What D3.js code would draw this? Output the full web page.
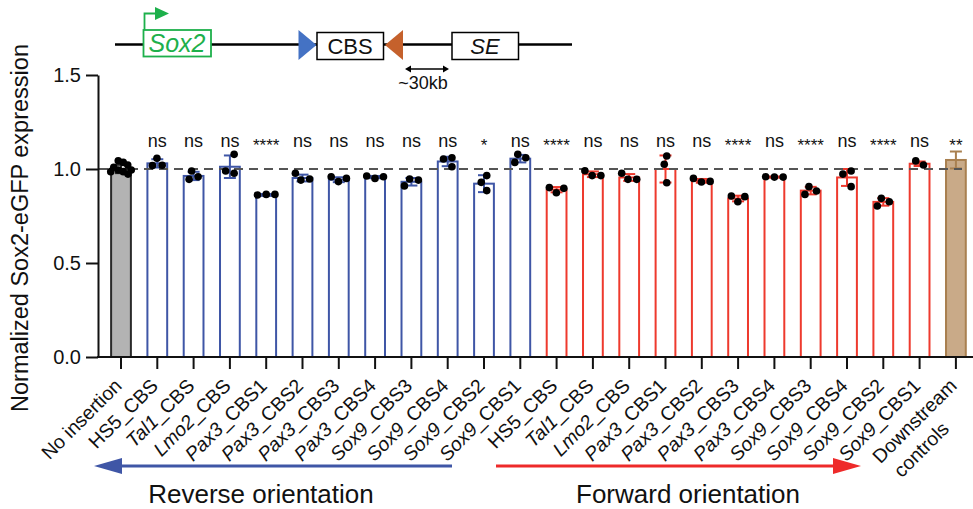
<!DOCTYPE html>
<html><head><meta charset="utf-8">
<script src="https://cdn.jsdelivr.net/npm/d3@7"></script>
<style>
body{margin:0;background:#fff}
svg{display:block}
text{font-family:"Liberation Sans",Arial,Helvetica,sans-serif;fill:#111}
</style>
</head><body>
<svg id="c" width="973" height="509"></svg>
<script>
// ---------- data ----------
const categories = ["No insertion",
  "HS5_CBS","Tal1_CBS","Lmo2_CBS","Pax3_CBS1","Pax3_CBS2","Pax3_CBS3","Pax3_CBS4","Sox9_CBS3","Sox9_CBS4","Sox9_CBS2","Sox9_CBS1",
  "HS5_CBS","Tal1_CBS","Lmo2_CBS","Pax3_CBS1","Pax3_CBS2","Pax3_CBS3","Pax3_CBS4","Sox9_CBS3","Sox9_CBS4","Sox9_CBS2","Sox9_CBS1",
  "Downstream controls"];
const groups = ["control",
  "reverse","reverse","reverse","reverse","reverse","reverse","reverse","reverse","reverse","reverse","reverse",
  "forward","forward","forward","forward","forward","forward","forward","forward","forward","forward","forward",
  "downstream"];
const means = [1.00, 1.03, 0.963, 1.012, 0.862, 0.952, 0.943, 0.957, 0.932, 1.04, 0.922, 1.055,
  0.89, 0.972, 0.955, 1.0, 0.937, 0.843, 0.957, 0.885, 0.955, 0.825, 1.028, 1.048];
const sds = [0.022, 0.022, 0.022, 0.06, 0.005, 0.018, 0.013, 0.006, 0.02, 0.025, 0.045, 0.02,
  0.014, 0.015, 0.018, 0.072, 0.01, 0.015, 0.003, 0.02, 0.045, 0.02, 0.012, 0.045];
const replicates = [
  [1.035, 1.044, 0.986, 0.995, 1.021, 0.973, 0.995, 1.009, 0.986],
  [1.057, 1.018, 1.020],
  [0.989, 0.945, 0.959],
  [1.078, 0.977, 0.989],
  [0.865, 0.862, 0.865],
  [0.941, 0.977, 0.947],
  [0.933, 0.959, 0.950],
  [0.950, 0.963, 0.959],
  [0.947, 0.910, 0.941],
  [1.060, 1.012, 1.053],
  [0.965, 0.929, 0.885],
  [1.078, 1.035, 1.060],
  [0.874, 0.901, 0.897],
  [0.965, 0.991, 0.965],
  [0.945, 0.977, 0.945],
  [1.069, 1.025, 0.927],
  [0.931, 0.950, 0.934],
  [0.826, 0.856, 0.853],
  [0.957, 0.959, 0.957],
  [0.906, 0.865, 0.883],
  [0.989, 0.973, 0.906],
  [0.844, 0.803, 0.826],
  [1.021, 1.043],
  []
];
const significance = ["", "ns","ns","ns","****","ns","ns","ns","ns","ns","*","ns",
  "****","ns","ns","ns","ns","****","ns","****","ns","****","ns","**"];
const yTicks = [0, 0.5, 1.0, 1.5];
const italicGenes = ["Tal1","Lmo2","Pax3","Sox9"];

// ---------- styles ----------
const strokeCol = {control:"#2a2a2a", reverse:"#3f56a6", forward:"#ee3a2e", downstream:"#a98050"};
const fillCol = {control:"#b3b3b3", reverse:"#ffffff", forward:"#ffffff", downstream:"#c9aa88"};

const svg = d3.select("#c");
const x = d3.scaleBand().domain(d3.range(categories.length))
  .range([102.85, 974.05]).paddingInner(0.4).paddingOuter(0.2);
const y = d3.scaleLinear().domain([0, 1.5]).range([357, 75]);
const bw = x.bandwidth();
const cx = i => x(i) + bw / 2;

// bars
svg.append("g").selectAll("rect").data(means).join("rect")
  .attr("x", (d, i) => x(i) + 1)
  .attr("width", bw - 2)
  .attr("y", d => y(d))
  .attr("height", d => y(0) - y(d))
  .attr("fill", (d, i) => fillCol[groups[i]])
  .attr("stroke", (d, i) => strokeCol[groups[i]])
  .attr("stroke-width", 2);

// error bars
const eb = svg.append("g");
means.forEach((m, i) => {
  const c = strokeCol[groups[i]];
  const g = eb.append("g").attr("stroke", c).attr("stroke-width", 2);
  g.append("line").attr("x1", cx(i)).attr("x2", cx(i)).attr("y1", y(m - sds[i])).attr("y2", y(m + sds[i]));
  [m - sds[i], m + sds[i]].forEach(v => {
    g.append("line").attr("x1", cx(i) - 6).attr("x2", cx(i) + 6).attr("y1", y(v)).attr("y2", y(v));
  });
});

// dashed reference line
svg.append("line").attr("x1", 99).attr("x2", 962).attr("y1", y(1)).attr("y2", y(1))
  .attr("stroke", "#555").attr("stroke-width", 1.8).attr("stroke-dasharray", "9,6");

// replicate points (simple beeswarm)
const R = 3.8;
const dots = svg.append("g");
replicates.forEach((vals, i) => {
  const MIN = vals.length > 3 ? 5.2 : 8.6;
  const placed = [];
  vals.forEach(v => {
    const py = y(v);
    for (let k = 0; k < 400; k++) {
      const off = Math.ceil(k / 2) * 0.25 * (k % 2 ? -1 : 1);
      if (placed.every(p => Math.hypot(p.dx - off, p.py - py) >= MIN)) { placed.push({dx: off, py}); break; }
    }
  });
  if (!placed.length) return;
  const shift = -(d3.min(placed, p => p.dx) + d3.max(placed, p => p.dx)) / 2;
  placed.forEach(p => {
    dots.append("circle").attr("cx", cx(i) + p.dx + shift).attr("cy", p.py).attr("r", R).attr("fill", "#000");
  });
});

// significance labels
svg.append("g").selectAll("text").data(significance).join("text")
  .attr("x", (d, i) => cx(i))
  .attr("y", d => d.startsWith("*") ? 151 : 147)
  .attr("text-anchor", "middle")
  .attr("font-size", d => d.startsWith("*") ? 17 : 18)
  .text(d => d);

// y axis
const ya = svg.append("g").attr("transform", "translate(98,0)")
  .call(d3.axisLeft(y).tickValues(yTicks).tickFormat(d3.format(".1f")).tickSize(12).tickSizeOuter(0).tickPadding(5));
ya.selectAll("path,line").attr("stroke", "#111").attr("stroke-width", 2);
ya.selectAll("text").attr("font-size", 20).attr("fill", "#111").attr("font-family", "Liberation Sans, Arial, sans-serif");

// x axis
const xa = svg.append("g").attr("transform", "translate(0,357)")
  .call(d3.axisBottom(x).tickSize(12).tickSizeOuter(0).tickFormat(""));
xa.select(".domain").remove();
xa.selectAll("line").attr("stroke", "#111").attr("stroke-width", 2);
svg.append("line").attr("x1", 97).attr("x2", 974).attr("y1", 357).attr("y2", 357)
  .attr("stroke", "#111").attr("stroke-width", 2);

// x labels
const xl = svg.append("g");
categories.forEach((c, i) => {
  const t = xl.append("text")
    .attr("transform", `translate(${cx(i) + 2},387) rotate(-45)`)
    .attr("text-anchor", "end").attr("font-size", 19.5);
  if (c === "Downstream controls") {
    t.append("tspan").attr("x", 0).attr("y", 0).text("Downstream");
    t.append("tspan").attr("x", -36).attr("y", 25).text("controls");
    return;
  }
  const parts = c.split("_");
  if (parts.length > 1 && italicGenes.includes(parts[0])) {
    t.append("tspan").attr("font-style", "italic").text(parts[0]);
    t.append("tspan").text("_" + parts.slice(1).join("_"));
  } else t.text(c);
});

// y title
svg.append("text").attr("transform", "translate(28,228) rotate(-90)")
  .attr("text-anchor", "middle").attr("font-size", 23.5).text("Normalized Sox2-eGFP expression");

// orientation arrows
const arr = svg.append("g");
arr.append("line").attr("x1", 118).attr("x2", 452).attr("y1", 466).attr("y2", 466).attr("stroke", "#3f56a6").attr("stroke-width", 3.2);
arr.append("path").attr("d", "M94,466 L122,458 L122,474 Z").attr("fill", "#3f56a6");
arr.append("line").attr("x1", 496).attr("x2", 836).attr("y1", 466).attr("y2", 466).attr("stroke", "#ee2a2a").attr("stroke-width", 3.2);
arr.append("path").attr("d", "M861,466 L833,458 L833,474 Z").attr("fill", "#ee2a2a");
arr.append("text").attr("x", 261).attr("y", 503).attr("text-anchor", "middle").attr("font-size", 26).text("Reverse orientation");
arr.append("text").attr("x", 688).attr("y", 503).attr("text-anchor", "middle").attr("font-size", 26).text("Forward orientation");

// top schematic
const schem = svg.append("g");
schem.append("line").attr("x1", 115).attr("x2", 572).attr("y1", 44.5).attr("y2", 44.5).attr("stroke", "#000").attr("stroke-width", 2.5);
// Sox2 box
schem.append("rect").attr("x", 143.5).attr("y", 30).attr("width", 67.5).attr("height", 26.5)
  .attr("fill", "#fff").attr("stroke", "#1db04b").attr("stroke-width", 1.8);
schem.append("text").attr("x", 177).attr("y", 52).attr("text-anchor", "middle").attr("font-size", 25)
  .attr("font-style", "italic").style("fill", "#1db04b").text("Sox2");
schem.append("path").attr("d", "M144.5,30 L144.5,13.5 L156,13.5").attr("fill", "none").attr("stroke", "#1db04b").attr("stroke-width", 1.8);
schem.append("path").attr("d", "M155,7 L169,13.5 L155,20 Z").attr("fill", "#1db04b");
// triangles
schem.append("path").attr("d", "M298.5,30 L316.5,45 L298.5,60 Z").attr("fill", "#4472c4");
schem.append("path").attr("d", "M385,45 L403,30 L403,60 Z").attr("fill", "#c5612c");
// CBS box
schem.append("rect").attr("x", 317).attr("y", 32.5).attr("width", 66.5).attr("height", 27)
  .attr("fill", "#fff").attr("stroke", "#000").attr("stroke-width", 1.5);
schem.append("text").attr("x", 350).attr("y", 54).attr("text-anchor", "middle").attr("font-size", 22).text("CBS");
// SE box
schem.append("rect").attr("x", 452).attr("y", 32.5).attr("width", 66.5).attr("height", 27)
  .attr("fill", "#fff").attr("stroke", "#000").attr("stroke-width", 1.5);
schem.append("text").attr("x", 485).attr("y", 54).attr("text-anchor", "middle").attr("font-size", 22).attr("font-style", "italic").text("SE");
// ~30kb arrow
schem.append("line").attr("x1", 408).attr("x2", 446).attr("y1", 69).attr("y2", 69).attr("stroke", "#000").attr("stroke-width", 1.5);
schem.append("path").attr("d", "M405,69 L411,65.5 L411,72.5 Z").attr("fill", "#000");
schem.append("path").attr("d", "M449,69 L443,65.5 L443,72.5 Z").attr("fill", "#000");
schem.append("text").attr("x", 423).attr("y", 89).attr("text-anchor", "middle").attr("font-size", 18).text("~30kb");
</script>
</body></html>
